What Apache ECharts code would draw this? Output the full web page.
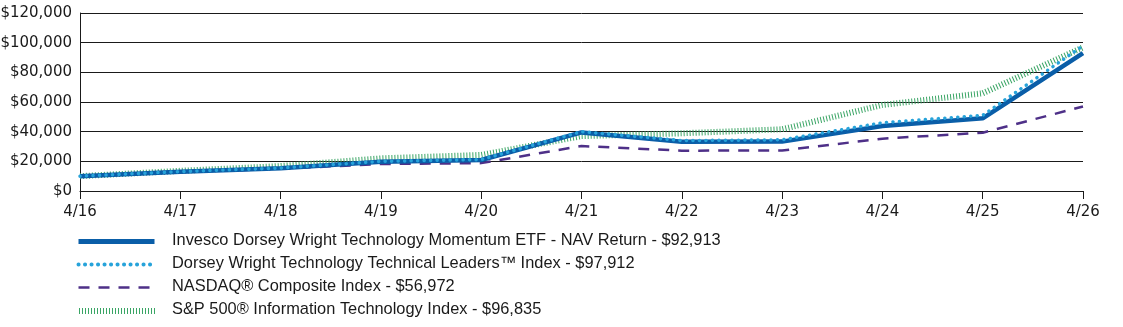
<!DOCTYPE html>
<html>
<head>
<meta charset="utf-8">
<script src="https://cdn.jsdelivr.net/npm/echarts@6/dist/echarts.min.js"></script>
<style>
html,body{margin:0;padding:0;background:#fff;}
#chart{width:1123px;height:327px;}
</style>
</head>
<body>
<div id="chart"></div>
<script>
var categories = ['4/16','4/17','4/18','4/19','4/20','4/21','4/22','4/23','4/24','4/25','4/26'];
var etfValues    = [10000,13000,15300,19700,20900,39500,33200,33300,43800,49000,92913];
var leadersValues= [10000,13100,15500,20000,21200,40000,34000,34500,46000,51000,97912];
var nasdaqValues = [10000,12700,15000,18200,18800,30300,27200,27300,35300,39300,56972];
var spitValues   = [10000,13600,16800,22000,24300,37000,38900,41600,58000,65900,96835];
var seriesNames = [
  'Invesco Dorsey Wright Technology Momentum ETF - NAV Return - $92,913',
  'Dorsey Wright Technology Technical Leaders\u2122 Index - $97,912',
  'NASDAQ\u00ae Composite Index - $56,972',
  'S&P 500\u00ae Information Technology Index - $96,835'
];
var yTicks = [0,20000,40000,60000,80000,100000,120000];

var AXISFONT = '"DejaVu Sans", Verdana, sans-serif';
var LEGFONT = '"Liberation Sans", Arial, sans-serif';
var colors = {etf:'#0a5ea8', leaders:'#27a3da', nasdaq:'#4e3088', spit:'#3aa565'};

var chart = echarts.init(document.getElementById('chart'));

var legendStyles = [
  {stroke:colors.etf, lineWidth:5, lineDash:null, lineCap:'butt'},
  {stroke:colors.leaders, lineWidth:4, lineDash:[0.1,6.4], lineCap:'round'},
  {stroke:colors.nasdaq, lineWidth:2.5, lineDash:[11,9], lineCap:'butt'},
  {stroke:colors.spit, lineWidth:6, lineDash:[1,2], lineCap:'butt'}
];
var legendY = [242, 265, 288, 311];
var graphics = [];
for (var i = 0; i < 4; i++) {
  graphics.push({
    type:'line', left:76, top:legendY[i]-3,
    shape:{x1:0,y1:0,x2:76,y2:0},
    style:legendStyles[i]
  });
  graphics.push({
    type:'text', left:172, top:legendY[i]-10,
    style:{text:seriesNames[i], fill:'#1a1a1a', font:'16.4px ' + LEGFONT}
  });
}

chart.setOption({
  animation:false,
  grid:{left:80, right:40, top:13, bottom:136, containLabel:false, outerBoundsMode:'none'},
  xAxis:{
    type:'category', data:categories, boundaryGap:false,
    axisLine:{lineStyle:{color:'#1a1a1a', width:1}},
    axisTick:{show:true, length:8, lineStyle:{color:'#1a1a1a'}},
    axisLabel:{color:'#1a1a1a', fontSize:15, fontFamily:AXISFONT, margin:14}
  },
  yAxis:{
    type:'value', min:0, max:120000, interval:20000,
    axisLine:{show:true, lineStyle:{color:'#1a1a1a', width:1}},
    axisTick:{show:false},
    splitLine:{show:true, lineStyle:{color:'#1a1a1a', width:1}},
    axisLabel:{color:'#1a1a1a', fontSize:15, fontFamily:AXISFONT, margin:8,
      formatter:function(v){ return '$' + v.toLocaleString('en-US'); }}
  },
  graphic:graphics,
  series:[
    {name:seriesNames[3], type:'line', data:spitValues, showSymbol:false, z:2,
     lineStyle:{color:colors.spit, width:6, type:[1,2], cap:'butt'}},
    {name:seriesNames[2], type:'line', data:nasdaqValues, showSymbol:false, z:3,
     lineStyle:{color:colors.nasdaq, width:2.5, type:[11,9], cap:'butt'}},
    {name:seriesNames[0], type:'line', data:etfValues, showSymbol:false, z:4,
     lineStyle:{color:colors.etf, width:4.5}},
    {name:seriesNames[1], type:'line', data:leadersValues, showSymbol:false, z:5,
     lineStyle:{color:colors.leaders, width:3.5, type:[0.1,6.4], cap:'round'}}
  ]
});
</script>
</body>
</html>
